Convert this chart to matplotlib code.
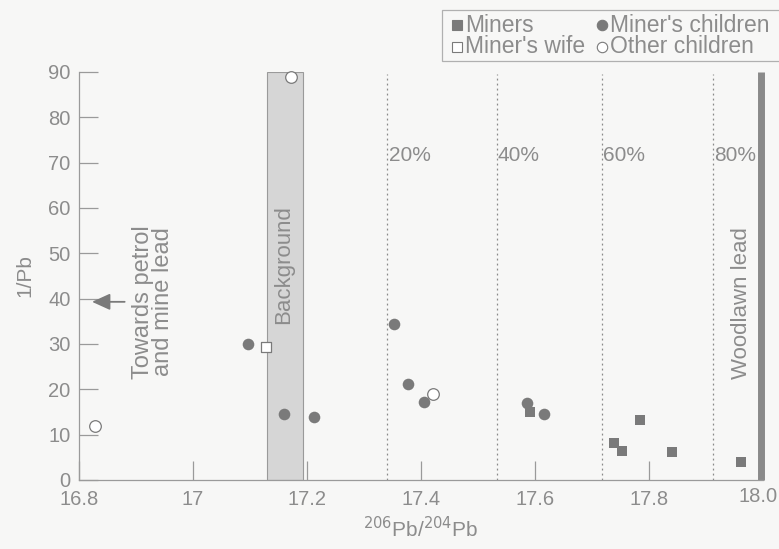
"""Lead isotope ratio vs 1/Pb for miners' households (PNG)."""

import matplotlib

matplotlib.use("Agg")
import matplotlib.pyplot as plt
from matplotlib.patches import Rectangle

# data
miners_x = [17.591, 17.739, 17.753, 17.784, 17.840, 17.961]
miners_y = [14.9, 8.1, 6.5, 13.2, 6.1, 3.9]
kids_x = [17.096, 17.160, 17.213, 17.353, 17.378, 17.405, 17.586, 17.616]
kids_y = [30.0, 14.6, 13.8, 34.3, 21.1, 17.3, 16.9, 14.5]
wife_x = [17.128]
wife_y = [29.4]
other_x = [16.828, 17.172, 17.421]
other_y = [12.0, 89.0, 18.9]

background = (17.13, 17.193)
mix_lines = [17.341, 17.533, 17.718, 17.912]
mix_labels = ["20%", "40%", "60%", "80%"]
woodlawn_x = 17.997

xticks = [16.8, 17.0, 17.2, 17.4, 17.6, 17.8, 18.0]
xtick_labels = ["16.8", "17", "17.2", "17.4", "17.6", "17.8", "18.0"]
yticks = [0, 10, 20, 30, 40, 50, 60, 70, 80, 90]

TXT = "#8c8c8c"
MK = "#7a7a7a"
BG = "#f7f7f6"

plt.rcParams["font.family"] = ["Liberation Sans", "DejaVu Sans"]

fig = plt.figure(figsize=(7.79, 5.49), dpi=100, facecolor=BG)
ax = fig.add_axes((0.1014, 0.1257, 0.8781, 0.7432))
ax.set_facecolor(BG)

ax.set_xlim(16.8, 18.0)
ax.set_ylim(0, 90)

# background band
ax.add_patch(Rectangle((background[0], 0), background[1] - background[0], 90,
                       facecolor="#d6d6d6", edgecolor="#9a9a9a", lw=0.8, zorder=1))
ax.text(sum(background) / 2 - 0.003, 47.5, "Background", rotation=90, ha="center",
        va="center", fontsize=16, color=TXT, zorder=2)

# mixing lines
for xv, lab in zip(mix_lines, mix_labels):
    ax.plot([xv, xv], [0, 89.5], ls=(0, (1.5, 2.5)), lw=0.9, color="#8a8a8a", zorder=1)
    ax.text(xv + 0.002, 71.5, lab, ha="left", va="center", fontsize=15, color=TXT)

# Woodlawn end member
ax.plot([woodlawn_x, woodlawn_x], [0, 90], lw=5, color="#8a8a8a",
        solid_capstyle="butt", zorder=2, clip_on=False)
ax.text(woodlawn_x - 0.035, 39, "Woodlawn lead", rotation=90, ha="center",
        va="center", fontsize=16, color=TXT)

# arrow towards petrol / mine lead
ax.annotate("", xy=(16.818, 39.3), xytext=(16.885, 39.3),
            arrowprops=dict(arrowstyle="-|>,head_length=1.1,head_width=0.5",
                            color="#7a7a7a", lw=1.3))
ax.text(16.93, 39.3, "Towards petrol\nand mine lead", rotation=90, ha="center",
        va="center", fontsize=17, color=TXT, linespacing=0.92)

ax.scatter(miners_x, miners_y, marker="s", s=52, color=MK, zorder=4, lw=0)
ax.scatter(kids_x, kids_y, marker="o", s=70, color=MK, zorder=4, lw=0)
ax.scatter(wife_x, wife_y, marker="s", s=52, facecolor="white", edgecolor=MK,
           lw=0.9, zorder=4)
ax.scatter(other_x, other_y, marker="o", s=70, facecolor="white", edgecolor=MK,
           lw=0.9, zorder=4, clip_on=False)

for side in ("top", "right"):
    ax.spines[side].set_visible(False)
for side in ("left", "bottom"):
    ax.spines[side].set_color("#9a9a9a")
    ax.spines[side].set_linewidth(0.9)

LABEL_SIZE = 14.5
ax.set_xticks(xticks)
# last label is drawn by hand, nudged left so it stays inside the picture
ax.set_xticklabels(xtick_labels[:-1] + [""])
ax.annotate(xtick_labels[-1], xy=(xticks[-1], 0), xycoords="data",
            xytext=(-3.5, -5.2), textcoords="offset points", ha="center", va="top",
            fontsize=LABEL_SIZE, color=TXT, annotation_clip=False)
ax.set_yticks(yticks)
ax.tick_params(direction="in", length=14, width=0.9, color="#9a9a9a",
               labelcolor=TXT, labelsize=LABEL_SIZE, pad=6)
ax.tick_params(axis="x", pad=7)

ax.set_ylabel("1/Pb", fontsize=15, color=TXT, labelpad=10)
ax.set_xlabel(r"$^{206}$Pb/$^{204}$Pb", fontsize=15, color=TXT, labelpad=5)

# legend box
fig.patches.append(Rectangle((442 / 779, 1 - 61 / 549), 0.5, 51 / 549,
                             transform=fig.transFigure, facecolor=BG,
                             edgecolor="#b0b0b0", lw=0.9))
leg = [
    (457, 25, "s", MK, "Miners"),
    (602, 25, "o", MK, "Miner's children"),
    (457, 47, "s", "white", "Miner's wife"),
    (602, 47, "o", "white", "Other children"),
]
for px, py, mk, fc, lab in leg:
    fx, fy = px / 779, 1 - py / 549
    fig.lines.append(plt.Line2D([fx], [fy], marker=mk, ms=7 if mk == "s" else 7.5,
                                markerfacecolor=fc, markeredgecolor=MK,
                                markeredgewidth=0.8, transform=fig.transFigure))
    fig.text(fx + 8 / 779, fy, lab, ha="left", va="center", fontsize=16.5, color=TXT)

fig.savefig("out.png", dpi=100, facecolor=BG)
